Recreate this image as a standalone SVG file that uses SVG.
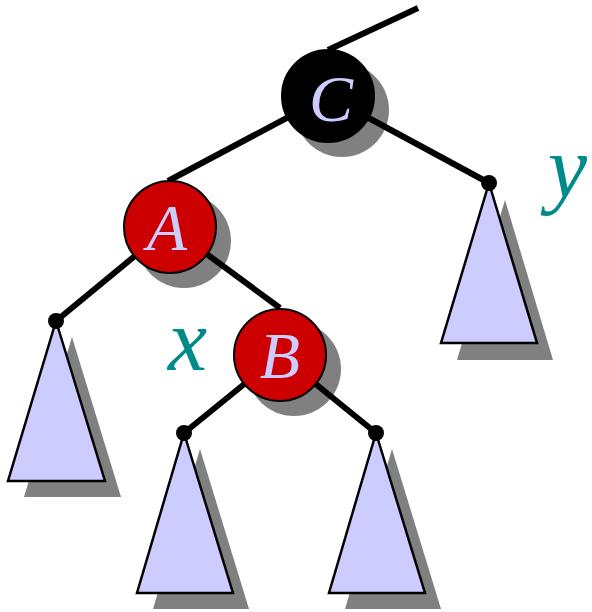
<svg xmlns="http://www.w3.org/2000/svg" width="592" height="612" viewBox="0 0 592 612">
<style>
.sh{fill:#808080}
.tri{fill:#ccccff;stroke:#000;stroke-width:2.5;stroke-linejoin:miter}
.edge{stroke:#000;stroke-width:6;fill:none}
.dot{fill:#000}
.lbl{fill:#ccccff;text-anchor:middle}
.var{fill:#008b8b}
.red{fill:#cc0000;stroke:#000;stroke-width:2}
.blk{fill:#000;stroke:#000;stroke-width:2}
</style>
<g id="shadows">
<circle class="sh" cx="342" cy="110" r="47"/>
<circle class="sh" cx="184" cy="241" r="47"/>
<circle class="sh" cx="294" cy="369" r="47"/>
<polygon class="sh" points="505,200 553,360 457,360"/>
<polygon class="sh" points="72,337 121,497 24,497"/>
<polygon class="sh" points="200,449 249,609 153,609"/>
<polygon class="sh" points="392,449 441,609 345,609"/>
</g>
<g id="connectors">
<line class="edge" x1="418" y1="8" x2="328" y2="50"/>
<line class="edge" x1="328" y1="96" x2="168" y2="181"/>
<line class="edge" x1="328" y1="96" x2="489" y2="183"/>
<line class="edge" x1="170" y1="227" x2="56" y2="321"/>
<line class="edge" x1="170" y1="227" x2="280" y2="308"/>
<line class="edge" x1="280" y1="355" x2="184" y2="433"/>
<line class="edge" x1="280" y1="355" x2="376" y2="433"/>
</g>
<g id="subtree-y">
<polygon class="tri" points="489,183 537,343 441,343"/>
<circle class="dot" cx="489" cy="183" r="8"/>
</g>
<g id="subtree-left">
<polygon class="tri" points="56,321 105,481 8,481"/>
<circle class="dot" cx="56" cy="321" r="8"/>
</g>
<g id="subtree-bl">
<polygon class="tri" points="184,433 233,593 137,593"/>
<circle class="dot" cx="184" cy="433" r="8"/>
</g>
<g id="subtree-br">
<polygon class="tri" points="376,433 425,593 329,593"/>
<circle class="dot" cx="376" cy="433" r="8"/>
</g>
<g id="node-C">
<circle class="blk" cx="328" cy="96" r="46"/>
<text class="lbl" x="331" y="121" font-family="Liberation Serif, serif" font-style="italic" font-size="66">C</text>
</g>
<g id="node-A">
<circle class="red" cx="170" cy="227" r="46"/>
<text class="lbl" x="167" y="250" font-family="Liberation Serif, serif" font-style="italic" font-size="66">A</text>
</g>
<g id="node-B">
<circle class="red" cx="280" cy="355" r="46"/>
<text class="lbl" x="280" y="378" font-family="Liberation Serif, serif" font-style="italic" font-size="66">B</text>
</g>
<text class="var" x="168" y="370" font-family="Liberation Serif, serif" font-style="italic" font-size="88">x</text>
<text class="var" x="548" y="197" font-family="Liberation Serif, serif" font-style="italic" font-size="88">y</text>
</svg>
